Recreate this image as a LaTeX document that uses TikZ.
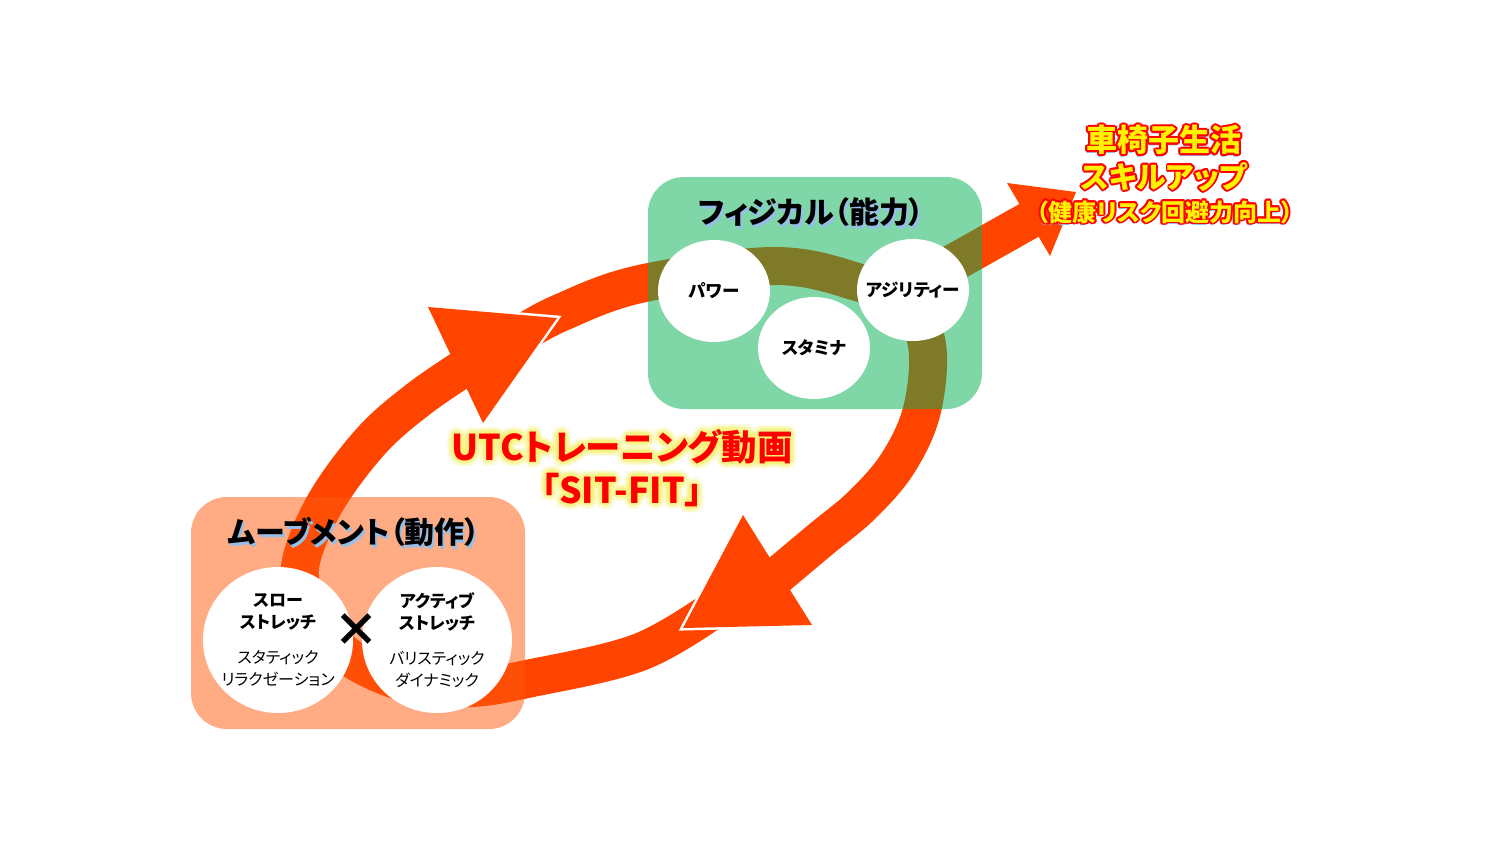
\documentclass[tikz,border=0pt]{standalone}
\usepackage{fontspec}
\newfontfamily\jp{Noto Sans CJK JP}[RawFeature=+palt]
\usetikzlibrary{shapes.geometric}

\definecolor{arrowred}{RGB}{255,68,0}
\definecolor{physgreen}{RGB}{0,176,80}
\definecolor{moveorange}{RGB}{255,90,12}
\definecolor{shadowblue}{RGB}{150,190,230}
\definecolor{glowyellow}{RGB}{245,240,110}

\newcommand\rimtext[4]{%
  \node[#3, text=shadowblue, shift={(-1,2.5)}] at #2 {#4};
  \foreach \a in {0,30,...,330}
    \node[#3, text=red, shift={(\a:1.8)}] at #2 {#4};
  \node[#3, text=yellow] (#1) at #2 {#4};
}
\newcommand\boldline[1]{{\fontsize{17}{22.5}\selectfont\bfseries #1}}

\begin{document}
\begin{tikzpicture}[x=1pt, y=-1pt,
    band/.style={draw=arrowred, line width=38pt},
    notch/.style={draw=white, line width=5pt, line join=miter},
    groupbox/.style={rounded corners=36pt, minimum width=334pt, minimum height=232pt, inner sep=0pt, fill opacity=0.5},
    skill/.style={ellipse, fill=white, inner sep=-25pt, minimum width=112pt, minimum height=102pt, font=\jp\bfseries\fontsize{17.5}{20}\selectfont},
    bigskill/.style={ellipse, fill=white, inner sep=-25pt, minimum width=150pt, minimum height=146pt, align=center, font=\jp\fontsize{16}{22.5}\selectfont},
    grouptitle/.style={font=\jp\bfseries\fontsize{30}{34}\selectfont},
    utc/.style={font=\jp\bfseries\fontsize{35.5}{43}\selectfont, align=center},
    goal/.style={font=\jp\bfseries\fontsize{#1}{#1}\selectfont}]
  \useasboundingbox (0,0) rectangle (1500,844);

  \draw[band] plot[smooth, tension=0.6] coordinates {(720,605) (640,652) (527,679) (470,688) (410,684) (355,661) (322,630) (303,592) (302,557) (327,500) (372,440) (420,398) (470,364)};
  \draw[band] plot[smooth, tension=0.6] coordinates {(520,335) (560,313) (640,284) (773,266) (857,282) (905,305) (927,345) (922,410) (898,463) (862,505) (820,540) (770,582)};
  \draw[band] plot[smooth, tension=0.6] coordinates {(890,298) (955,262) (1042,213)};

  \draw[notch] (428,307) -- (557,318) -- (483,423);
  \fill[arrowred] (428,307) -- (557,318) -- (483,423) -- cycle;
  \draw[notch] (743,515) -- (683,628) -- (812,625);
  \fill[arrowred] (743,515) -- (683,628) -- (812,625) -- cycle;
  \fill[arrowred] (1007,183) -- (1076,192) -- (1050,256) -- cycle;

  \node[groupbox, fill=physgreen] (physbox) at (815,293) {};
  \node[groupbox, fill=moveorange] (movebox) at (358,613) {};

  \node[skill] (power) at (714,291) {パワー};
  \node[skill] (stamina) at (814,348) {スタミナ};
  \node[skill] (agility) at (913,290) {アジリティー};
  \node[bigskill] (slow) at (278,640) {\boldline{スロー}\\\boldline{ストレッチ}\\[12pt]スタティック\\リラクゼーション};
  \node[bigskill] (active) at (437,640) {\boldline{アクティブ}\\\boldline{ストレッチ}\\[12pt]バリスティック\\ダイナミック};
  \node[font=\jp\bfseries\fontsize{46}{46}\selectfont] (cross) at (356,630) {×};

  \node[grouptitle, text=shadowblue] at (813,215) {フィジカル（能力）};
  \node[grouptitle] (phystitle) at (811,212) {フィジカル（能力）};
  \node[grouptitle, text=shadowblue] at (356,535) {ムーブメント（動作）};
  \node[grouptitle] (movetitle) at (354,532) {ムーブメント（動作）};

  \foreach \a in {0,22.5,...,337.5} {
    \node[utc, text=glowyellow, text opacity=0.12, shift={(\a:6.5)}] at (622,468) {UTCトレーニング動画\\「SIT-FIT」};
    \node[utc, text=glowyellow, text opacity=0.22, shift={(\a:3.5)}] at (622,468) {UTCトレーニング動画\\「SIT-FIT」};
  }
  \node[utc, text=red] (utc) at (622,468) {UTCトレーニング動画\\「SIT-FIT」};

  \rimtext{goal1}{(1164,140)}{goal=31}{車椅子生活}
  \rimtext{goal2}{(1164,177)}{goal=30}{スキルアップ}
  \rimtext{goal3}{(1165,212)}{goal=24}{（健康リスク回避力向上）}
\end{tikzpicture}
\end{document}
